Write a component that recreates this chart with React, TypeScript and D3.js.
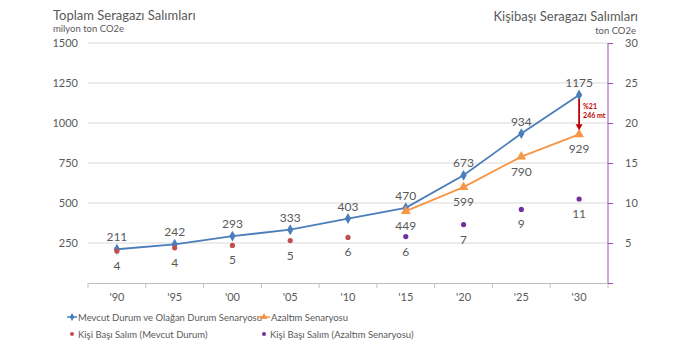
import React, { useEffect, useRef } from "react";
import * as d3 from "d3";

// values
const years = ["'90", "'95", "'00", "'05", "'10", "'15", "'20", "'25", "'30"];
const baseline = [211, 242, 293, 333, 403, 470, 673, 934, 1175];
const mitigation: (number | null)[] = [null, null, null, null, null, 449, 599, 790, 929];
const perCapitaBase: (number | null)[] = [4.0, 4.4, 4.7, 5.3, 5.7, null, null, null, null];
const perCapitaMit: (number | null)[] = [null, null, null, null, null, 5.8, 7.3, 9.2, 10.5];
const leftTicks = [250, 500, 750, 1000, 1250, 1500];
const rightTicks = [5, 10, 15, 20, 25, 30];
const legendItems = [
  "Mevcut Durum ve Olağan Durum Senaryosu",
  "Azaltım Senaryosu",
  "Kişi Başı Salım (Mevcut Durum)",
  "Kişi Başı Salım (Azaltım Senaryosu)",
];
const gapNote = ["%21", "246 mt"];

const BLUE = "#4a7ebb";
const ORANGE = "#f79646";
const RED = "#c0504d";
const PURPLE = "#7030a0";
const AXIS_PURPLE = "#9b4fb5";
const TEXT = "#595959";
const FONT = "Lato, 'DejaVu Sans', sans-serif";

const App = () => {
  const ref = useRef<SVGSVGElement>(null);

  useEffect(() => {
    const width = 700,
      height = 358;
    const margin = { top: 43, right: 92, bottom: 75, left: 88 };

    const svg = d3.select(ref.current);
    svg.selectAll("*").remove();
    svg.attr("width", width).attr("height", height).style("font-family", FONT);

    const x = d3
      .scaleBand()
      .domain(years)
      .range([margin.left, width - margin.right]);
    const cx = (d: string) => (x(d) as number) + x.bandwidth() / 2;
    const yL = d3.scaleLinear().domain([0, 1500]).range([height - margin.bottom, margin.top]);
    const yR = d3.scaleLinear().domain([0, 30]).range([height - margin.bottom, margin.top]);

    // gridlines
    svg
      .append("g")
      .selectAll("line")
      .data(leftTicks)
      .enter()
      .append("line")
      .attr("x1", margin.left)
      .attr("x2", width - margin.right)
      .attr("y1", (d) => yL(d))
      .attr("y2", (d) => yL(d))
      .attr("stroke", "#d9d9d9")
      .attr("stroke-width", 1);

    // left axis labels
    svg
      .append("g")
      .selectAll("text")
      .data(leftTicks)
      .enter()
      .append("text")
      .attr("x", 78)
      .attr("y", (d) => yL(d) + 4)
      .attr("text-anchor", "end")
      .attr("fill", TEXT)
      .style("font-size", "11px")
      .text((d) => d);

    // bottom axis
    const xAxis = svg
      .append("g")
      .attr("transform", `translate(0,${height - margin.bottom})`)
      .call(d3.axisBottom(x).tickSize(0).tickPadding(10));
    xAxis.select(".domain").attr("stroke", "#bfbfbf");
    xAxis
      .selectAll("text")
      .attr("fill", TEXT)
      .style("font-size", "11px")
      .style("font-family", FONT);
    xAxis
      .selectAll(".sep")
      .data(years.concat(["end"]))
      .enter()
      .append("line")
      .attr("x1", (d, i) => margin.left + i * x.bandwidth())
      .attr("x2", (d, i) => margin.left + i * x.bandwidth())
      .attr("y1", 0)
      .attr("y2", 5)
      .attr("stroke", "#bfbfbf");

    // right axis
    const rAxis = svg
      .append("g")
      .attr("transform", `translate(${width - margin.right},0)`)
      .call(
        d3
          .axisRight(yR)
          .tickValues([0, ...rightTicks])
          .tickSize(5)
          .tickPadding(12)
          .tickFormat((d) => (d === 0 ? "" : String(d)))
      );
    rAxis.select(".domain").attr("stroke", AXIS_PURPLE).attr("d", `M0,${yR(0)}V${yR(30)}`);
    rAxis.selectAll(".tick line").attr("stroke", AXIS_PURPLE);
    rAxis
      .selectAll("text")
      .attr("fill", TEXT)
      .style("font-size", "11px")
      .style("font-family", FONT);

    // titles
    svg.append("text").attr("x", 53).attr("y", 20).attr("fill", TEXT).style("font-size", "13px").text("Toplam Seragazı Salımları");
    svg.append("text").attr("x", 53).attr("y", 32).attr("fill", TEXT).style("font-size", "9.5px").text("milyon ton CO2e");
    svg.append("text").attr("x", 638).attr("y", 21).attr("text-anchor", "end").attr("fill", TEXT).style("font-size", "13px").text("Kişibaşı Seragazı Salımları");
    svg.append("text").attr("x", 636).attr("y", 34).attr("text-anchor", "end").attr("fill", TEXT).style("font-size", "9.5px").text("ton CO2e");

    // lines
    const line = d3
      .line<number | null>()
      .defined((d) => d !== null)
      .x((d, i) => cx(years[i]))
      .y((d) => yL(d as number));
    svg.append("path").datum(baseline).attr("d", line).attr("fill", "none").attr("stroke", BLUE).attr("stroke-width", 1.8);
    svg.append("path").datum(mitigation).attr("d", line).attr("fill", "none").attr("stroke", ORANGE).attr("stroke-width", 1.8);

    // markers
    const diamond = d3.symbol().type(d3.symbolDiamond).size(34);
    const triangle = d3.symbol().type(d3.symbolTriangle).size(42);
    baseline.forEach((v, i) => {
      svg.append("path").attr("d", diamond()).attr("transform", `translate(${cx(years[i])},${yL(v)})`).attr("fill", BLUE);
      svg.append("text").attr("x", cx(years[i])).attr("y", yL(v) - 8).attr("text-anchor", "middle").attr("fill", TEXT).style("font-size", "12px").text(v);
    });
    mitigation.forEach((v, i) => {
      if (v === null) return;
      svg.append("path").attr("d", triangle()).attr("transform", `translate(${cx(years[i])},${yL(v)})`).attr("fill", ORANGE);
      svg.append("text").attr("x", cx(years[i])).attr("y", yL(v) + 19).attr("text-anchor", "middle").attr("fill", TEXT).style("font-size", "12px").text(v);
    });

    // per capita dots
    const dots = (vals: (number | null)[], color: string) =>
      vals.forEach((v, i) => {
        if (v === null) return;
        svg.append("circle").attr("cx", cx(years[i])).attr("cy", yR(v)).attr("r", 2.6).attr("fill", color);
        svg.append("text").attr("x", cx(years[i])).attr("y", yR(v) + 19).attr("text-anchor", "middle").attr("fill", TEXT).style("font-size", "12px").text(d3.format(".0f")(v));
      });
    dots(perCapitaBase, RED);
    dots(perCapitaMit, PURPLE);

    // gap arrow on the last year
    const last = years.length - 1;
    const ax = cx(years[last]);
    const y1 = yL(baseline[last]) + 4;
    const y2 = yL(mitigation[last] as number) - 4;
    svg.append("line").attr("x1", ax).attr("x2", ax).attr("y1", y1).attr("y2", y2 - 5).attr("stroke", "#c00000").attr("stroke-width", 1.8);
    svg.append("path").attr("d", `M${ax - 3.5},${y2 - 6}L${ax + 3.5},${y2 - 6}L${ax},${y2}Z`).attr("fill", "#c00000");
    gapNote.forEach((t, i) => {
      svg.append("text").attr("x", ax + 4).attr("y", y1 + 10 + i * 9).attr("fill", "#c00000").style("font-size", "7px").style("font-weight", "bold").text(t);
    });

    // legend
    const lg = svg.append("g").style("font-size", "9.5px");
    const row1 = 317,
      row2 = 334;
    lg.append("line").attr("x1", 67).attr("x2", 77).attr("y1", row1).attr("y2", row1).attr("stroke", BLUE).attr("stroke-width", 1.5);
    lg.append("path").attr("d", d3.symbol().type(d3.symbolDiamond).size(18)()).attr("transform", `translate(72,${row1})`).attr("fill", BLUE);
    lg.append("text").attr("x", 78).attr("y", row1 + 3.5).attr("fill", TEXT).text(legendItems[0]);
    lg.append("line").attr("x1", 258).attr("x2", 270).attr("y1", row1).attr("y2", row1).attr("stroke", ORANGE).attr("stroke-width", 1.5);
    lg.append("path").attr("d", d3.symbol().type(d3.symbolTriangle).size(20)()).attr("transform", `translate(264,${row1})`).attr("fill", ORANGE);
    lg.append("text").attr("x", 271).attr("y", row1 + 3.5).attr("fill", TEXT).text(legendItems[1]);
    lg.append("circle").attr("cx", 72).attr("cy", row2).attr("r", 2).attr("fill", RED);
    lg.append("text").attr("x", 78).attr("y", row2 + 3.5).attr("fill", TEXT).text(legendItems[2]);
    lg.append("circle").attr("cx", 264).attr("cy", row2).attr("r", 2).attr("fill", PURPLE);
    lg.append("text").attr("x", 270).attr("y", row2 + 3.5).attr("fill", TEXT).text(legendItems[3]);
  }, []);

  return <svg ref={ref} style={{ position: "absolute", left: 0, top: 0, background: "#fff" }} />;
};

export default App;
